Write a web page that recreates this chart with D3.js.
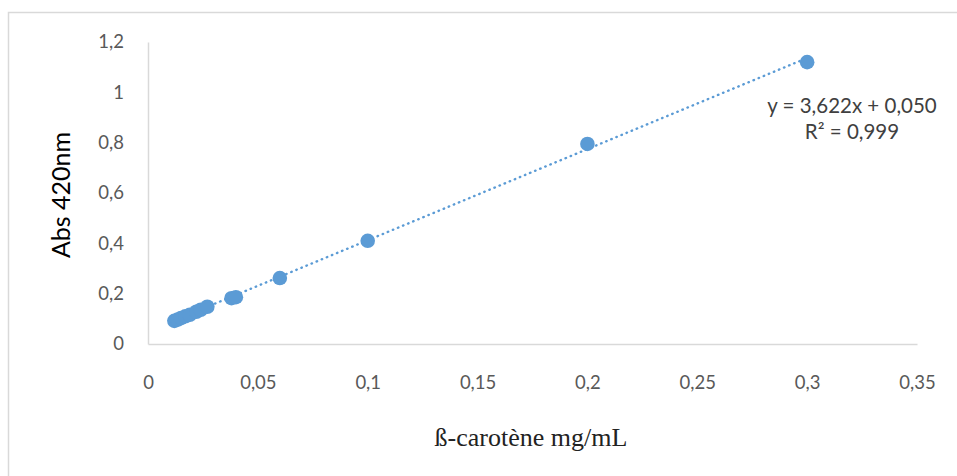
<!DOCTYPE html>
<html>
<head>
    <meta charset="utf-8">
    <title>Beta-carotene calibration</title>
    <script src="https://d3js.org/d3.v7.min.js"></script>
    <style>
        body { margin: 0; background: #fff; }
        .tick text { font-family: Lato, "Open Sans", sans-serif; font-size: 18.5px; fill: #595959; }
        .axis path, .axis line { stroke: #d9d9d9; }
    </style>
</head>
<body>
    <div id="chart"></div>
    <script>
        // concentrations (mg/mL) and absorbances
        const concentration = [0.012, 0.0135, 0.015, 0.017, 0.019, 0.022, 0.024, 0.027, 0.038, 0.040, 0.060, 0.100, 0.200, 0.300];
        const absorbance    = [0.092, 0.097, 0.103, 0.110, 0.116, 0.128, 0.136, 0.148, 0.182, 0.186, 0.262, 0.410, 0.795, 1.120];
        const xTicks = [0, 0.05, 0.1, 0.15, 0.2, 0.25, 0.3, 0.35];
        const yTicks = [0, 0.2, 0.4, 0.6, 0.8, 1, 1.2];
        const slope = 3.622, intercept = 0.050;

        const W = 957, H = 476;
        const margin = { top: 42, right: 37, bottom: 132, left: 148 },
            width = W - margin.left - margin.right,
            height = H - margin.top - margin.bottom;

        const svg = d3.select("#chart").append("svg")
            .attr("width", W)
            .attr("height", H);

        // chart frame
        svg.append("rect")
            .attr("x", 8.5).attr("y", 12.5)
            .attr("width", W).attr("height", H)
            .attr("fill", "none")
            .attr("stroke", "#d9d9d9")
            .attr("stroke-width", 1.5);

        const g = svg.append("g")
            .attr("transform", `translate(${margin.left},${margin.top})`);

        const x = d3.scaleLinear().domain([0, 0.35]).range([0, width - 3]);
        const y = d3.scaleLinear().domain([0, 1.2]).range([height, 0]);
        const fmt = d => String(d).replace(".", ",");

        g.append("g")
            .attr("class", "axis")
            .attr("transform", `translate(0,${height})`)
            .call(d3.axisBottom(x).tickValues(xTicks).tickFormat(fmt).tickSize(0).tickPadding(32))
            .call(a => a.select(".domain").attr("stroke-width", 1.5));

        g.append("g")
            .attr("class", "axis")
            .call(d3.axisLeft(y).tickValues(yTicks).tickFormat(fmt).tickSize(0).tickPadding(24))
            .call(a => a.select(".domain").attr("stroke-width", 1.5));

        // linear trendline over the data range
        const xr = d3.extent(concentration);
        g.append("line")
            .attr("x1", x(xr[0])).attr("y1", y(slope * xr[0] + intercept))
            .attr("x2", x(xr[1])).attr("y2", y(slope * xr[1] + intercept))
            .attr("stroke", "#5b9bd5")
            .attr("stroke-width", 2.4)
            .attr("stroke-dasharray", "0.5,5")
            .attr("stroke-linecap", "round");

        g.selectAll(".dot")
            .data(concentration)
            .enter().append("circle")
            .attr("class", "dot")
            .attr("cx", d => x(d))
            .attr("cy", (d, i) => y(absorbance[i]))
            .attr("r", 7.3)
            .attr("fill", "#5b9bd5");

        // equation label
        const eq = svg.append("text")
            .attr("text-anchor", "middle")
            .style("font-family", "Lato, 'Open Sans', sans-serif")
            .style("font-size", "20.5px")
            .attr("fill", "#404040");
        eq.append("tspan").attr("x", 852).attr("y", 113).text("y = 3,622x + 0,050");
        eq.append("tspan").attr("x", 852).attr("y", 139).text("R² = 0,999");

        svg.append("text")
            .attr("transform", "translate(70,195) rotate(-90)")
            .attr("text-anchor", "middle")
            .style("font-family", "Lato, 'Open Sans', sans-serif")
            .style("font-size", "25px")
            .attr("fill", "#000")
            .text("Abs 420nm");

        svg.append("text")
            .attr("x", 531).attr("y", 446)
            .attr("text-anchor", "middle")
            .style("font-family", "'Liberation Serif', serif")
            .style("font-size", "26px")
            .attr("fill", "#222")
            .text("ß-carotène mg/mL");
    </script>
</body>
</html>
